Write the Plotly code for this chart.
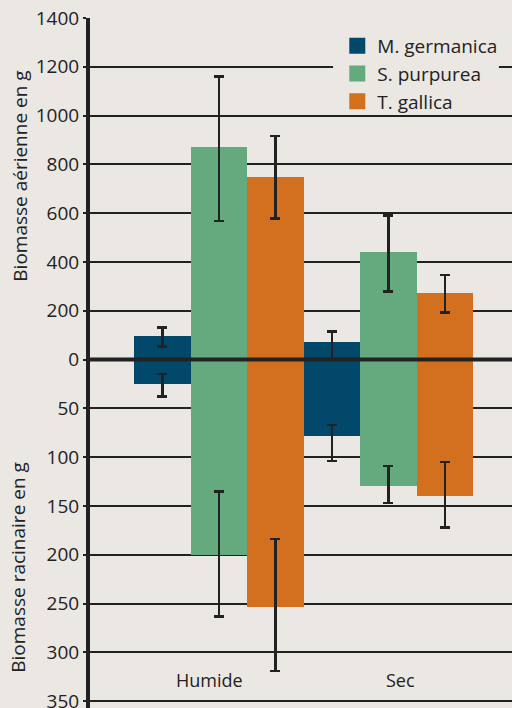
import plotly.graph_objects as go

conditions = ["Humide", "Sec"]
species = ["M. germanica", "S. purpurea", "T. gallica"]
colors = ["#02486a", "#65aa7f", "#d3701f"]

# Aerial biomass (g)
aerial_mean = {"M. germanica": [98, 73], "S. purpurea": [870, 442], "T. gallica": [748, 272]}
aerial_err_up = {"M. germanica": [34, 42], "S. purpurea": [291, 148], "T. gallica": [168, 75]}
aerial_err_down = {"M. germanica": [44, 107], "S. purpurea": [303, 162], "T. gallica": [170, 78]}

# Root biomass (g), drawn downward
root_mean = {"M. germanica": [25, 78], "S. purpurea": [200, 130], "T. gallica": [253, 140]}
root_err_low = {"M. germanica": [10, 11], "S. purpurea": [65, 21], "T. gallica": [69, 35]}
root_err_high = {"M. germanica": [13, 26], "S. purpurea": [63, 17], "T. gallica": [66, 32]}

aerial_ticks = [0, 200, 400, 600, 800, 1000, 1200, 1400]
root_ticks = [50, 100, 150, 200, 250, 300, 350]
SCALE = 4  # root axis: 50 g occupies the same height as 200 g aerial

BG = "#ebe7e2"
INK = "#222222"
FONT = "Open Sans"

fig = go.Figure()
for sp, col in zip(species, colors):
    fig.add_trace(go.Bar(
        x=conditions, y=aerial_mean[sp], name=sp, marker=dict(color=col, line=dict(width=0)),
        offsetgroup=sp, showlegend=False,
        error_y=dict(type="data", symmetric=False, array=aerial_err_up[sp],
                     arrayminus=aerial_err_down[sp], color=INK, thickness=2.5, width=5),
    ))
    fig.add_trace(go.Bar(
        x=conditions, y=[-SCALE * v for v in root_mean[sp]], name=sp,
        marker=dict(color=col, line=dict(width=0)), offsetgroup=sp, showlegend=False,
        error_y=dict(type="data", symmetric=False,
                     array=[SCALE * v for v in root_err_low[sp]],
                     arrayminus=[SCALE * v for v in root_err_high[sp]],
                     color=INK, thickness=2.5, width=5),
    ))
    fig.add_trace(go.Scatter(
        x=[None], y=[None], mode="markers", name=sp,
        marker=dict(symbol="square", size=16, color=col), showlegend=True,
    ))

tickvals = [-SCALE * v for v in root_ticks] + aerial_ticks
ticktext = [str(v) for v in root_ticks] + [str(v) for v in aerial_ticks]

fig.update_layout(
    width=512, height=708,
    margin=dict(l=90, r=0, t=17.5, b=0),
    paper_bgcolor=BG, plot_bgcolor=BG,
    barmode="relative", bargap=0, bargroupgap=0,
    font=dict(family=FONT, size=19, color=INK),
    showlegend=True,
    legend=dict(x=0.586, y=0.987, xanchor="left", yanchor="top",
                bgcolor="rgba(0,0,0,0)", borderwidth=0,
                font=dict(size=19, color=INK), tracegroupgap=0),
    xaxis=dict(range=[-0.761, 1.729], showticklabels=False, showgrid=False,
               zeroline=False, showline=False, ticks=""),
    yaxis=dict(range=[-1428, 1400], tickvals=tickvals, ticktext=ticktext,
               showgrid=True, gridcolor=INK, gridwidth=2,
               zeroline=False, showline=True, linecolor=INK, linewidth=4,
               ticks="outside", ticklen=3, tickwidth=2, tickcolor=INK,
               ticklabeloverflow="allow",
               tickfont=dict(size=19, color=INK), automargin=False),
)

# zero baseline on top of bars
fig.add_shape(type="line", xref="paper", yref="y", x0=0, x1=1, y0=0, y1=0,
              line=dict(color=INK, width=4), layer="above")
# legend background cutting the gridline
fig.add_shape(type="rect", xref="paper", yref="y", x0=0.576, x1=0.969, y0=1100, y1=1300,
              fillcolor=BG, line=dict(width=0), layer="above")

fig.add_annotation(text="Biomasse aérienne en g", xref="paper", yref="y", x=-0.168, y=750,
                   xanchor="center", yanchor="middle",
                   textangle=-90, showarrow=False, font=dict(size=19, color=INK))
fig.add_annotation(text="Biomasse racinaire en g", xref="paper", yref="y", x=-0.170, y=-852,
                   xanchor="center", yanchor="middle",
                   textangle=-90, showarrow=False, font=dict(size=19, color=INK))
for cond, shift in zip(conditions, [-9, 12]):
    fig.add_annotation(text=cond, xref="x", yref="y", x=cond, y=-1315, xshift=shift,
                       showarrow=False, font=dict(size=18, color=INK))

fig.write_html(
    "out.html",
    config={"displayModeBar": False, "staticPlot": True},
    post_script="document.body.style.margin='0';document.body.style.overflow='hidden';"
                "document.body.style.background='#ebe7e2';",
)
